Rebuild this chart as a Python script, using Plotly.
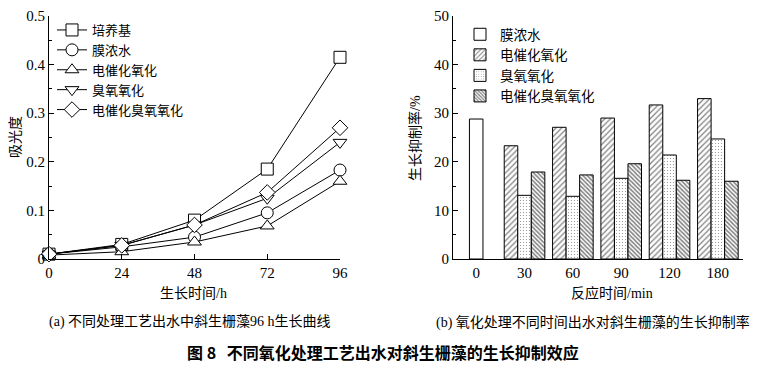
import plotly.graph_objects as go

# ---- data (a) ----
hours = [0, 24, 48, 72, 96]
line_names = ["培养基", "膜浓水", "电催化氧化", "臭氧氧化", "电催化臭氧氧化"]
culture = [0.010, 0.030, 0.080, 0.185, 0.415]
membrane = [0.010, 0.025, 0.045, 0.095, 0.183]
electro = [0.008, 0.015, 0.035, 0.068, 0.160]
ozone = [0.010, 0.028, 0.070, 0.125, 0.240]
electro_ozone = [0.010, 0.028, 0.070, 0.137, 0.270]

# ---- data (b) ----
cat_all = ["0", "30", "60", "90", "120", "180"]
cat_treat = ["30", "60", "90", "120", "180"]
bar_names = ["膜浓水", "电催化氧化", "臭氧氧化", "电催化臭氧氧化"]
membrane_rate = [28.8]
electro_rate = [23.3, 27.1, 29.0, 31.7, 33.0]
ozone_rate = [13.1, 12.9, 16.6, 21.4, 24.7]
electro_ozone_rate = [17.9, 17.3, 19.6, 16.2, 16.0]

W, H = 770, 366
FONT = "Liberation Serif, Times New Roman, Noto Sans CJK SC"

def px_x(p):
    return p / W

def px_y(p):
    return 1 - p / H

fig = go.Figure()

symbols = ["square", "circle", "triangle-up", "triangle-down", "diamond"]
series = [culture, membrane, electro, ozone, electro_ozone]
for name, vals, sym in zip(line_names, series, symbols):
    fig.add_trace(go.Scatter(
        x=hours, y=vals, name=name, mode="lines+markers",
        line=dict(color="black", width=1),
        marker=dict(symbol=sym, size=12, color="white",
                    line=dict(color="black", width=1)),
        cliponaxis=False, xaxis="x", yaxis="y", legend="legend",
    ))

BW = 0.28
fig.add_trace(go.Bar(
    x=["0"], y=membrane_rate, name=bar_names[0], width=BW, offset=-BW / 2,
    marker=dict(color="white", line=dict(color="black", width=1)),
    xaxis="x2", yaxis="y2", legend="legend2",
))
fig.add_trace(go.Bar(
    x=cat_treat, y=electro_rate, name=bar_names[1], width=BW, offset=-1.5 * BW,
    marker=dict(color="white", line=dict(color="black", width=1),
                pattern=dict(shape="/", fgcolor="black", bgcolor="white",
                             size=4, solidity=0.3)),
    xaxis="x2", yaxis="y2", legend="legend2",
))
fig.add_trace(go.Bar(
    x=cat_treat, y=ozone_rate, name=bar_names[2], width=BW, offset=-0.5 * BW,
    marker=dict(color="white", line=dict(color="black", width=1),
                pattern=dict(shape=".", fgcolor="black", bgcolor="white",
                             size=3, solidity=0.1)),
    xaxis="x2", yaxis="y2", legend="legend2",
))
fig.add_trace(go.Bar(
    x=cat_treat, y=electro_ozone_rate, name=bar_names[3], width=BW, offset=0.5 * BW,
    marker=dict(color="white", line=dict(color="black", width=1),
                pattern=dict(shape="\\", fgcolor="black", bgcolor="white",
                             size=3, solidity=0.5)),
    xaxis="x2", yaxis="y2", legend="legend2",
))

axis_common = dict(
    showline=True, linecolor="black", linewidth=1, mirror=False,
    showgrid=False, zeroline=False, ticks="inside", ticklen=5,
    tickcolor="black", tickfont=dict(family=FONT, size=15, color="black"),
    automargin=False,
)
ydom = [px_y(259), px_y(16)]

fig.update_layout(
    width=W, height=H, margin=dict(l=0, r=0, t=0, b=0, autoexpand=False),
    plot_bgcolor="white", paper_bgcolor="white",
    font=dict(family=FONT, color="black"),
    barmode="overlay",
    xaxis=dict(domain=[px_x(49), px_x(340)], range=[0, 96],
               tickvals=hours, anchor="y", **axis_common),
    yaxis=dict(domain=ydom, range=[0, 0.5], tickvals=[0, 0.1, 0.2, 0.3, 0.4, 0.5],
               ticktext=["0", "0.1", "0.2", "0.3", "0.4", "0.5"], anchor="x",
               minor=dict(ticks="inside", ticklen=3, dtick=0.05, tickcolor="black"),
               **axis_common),
    xaxis2=dict(domain=[px_x(453), px_x(743)], type="category",
                categoryorder="array", categoryarray=cat_all,
                range=[-0.48, 5.52], anchor="y2",
                **{**axis_common, "ticks": ""}),
    yaxis2=dict(domain=ydom, range=[0, 50], dtick=10, anchor="x2",
                minor=dict(ticks="inside", ticklen=3, dtick=5, tickcolor="black"),
                **axis_common),
    legend=dict(x=px_x(52), y=px_y(15), xanchor="left", yanchor="top",
                bgcolor="rgba(0,0,0,0)", font=dict(family=FONT, size=13),
                tracegroupgap=0, itemwidth=30),
    legend2=dict(x=px_x(460), y=px_y(19), xanchor="left", yanchor="top",
                 bgcolor="rgba(0,0,0,0)", font=dict(family=FONT, size=13.5),
                 tracegroupgap=0, itemwidth=30),
)

ann = [
    dict(text="生长时间/h", x=px_x(194), y=px_y(293), size=14),
    dict(text="反应时间/min", x=px_x(612), y=px_y(293), size=14),
    dict(text="(a) 不同处理工艺出水中斜生栅藻96 h生长曲线", x=px_x(190), y=px_y(322), size=14),
    dict(text="(b) 氧化处理不同时间出水对斜生栅藻的生长抑制率", x=px_x(593), y=px_y(322), size=14),
]
for a in ann:
    fig.add_annotation(text=a["text"], x=a["x"], y=a["y"], xref="paper", yref="paper",
                       showarrow=False, xanchor="center", yanchor="middle",
                       font=dict(family=FONT, size=a["size"], color="black"))
fig.add_annotation(text="吸光度", x=px_x(15), y=px_y(137), xref="paper", yref="paper",
                   showarrow=False, textangle=-90, xanchor="center", yanchor="middle",
                   font=dict(family=FONT, size=14, color="black"))
fig.add_annotation(text="生长抑制率/%", x=px_x(415), y=px_y(138), xref="paper", yref="paper",
                   showarrow=False, textangle=-90, xanchor="center", yanchor="middle",
                   font=dict(family=FONT, size=14, color="black"))
fig.add_annotation(text="<b>图 8</b>   <b>不同氧化处理工艺出水对斜生栅藻的生长抑制效应</b>",
                   x=px_x(383), y=px_y(352), xref="paper", yref="paper",
                   showarrow=False, xanchor="center", yanchor="middle",
                   font=dict(family="Noto Sans CJK SC, Liberation Sans", size=16, color="black"))

fig.write_html(
    "out.html",
    config={"displayModeBar": False},
    post_script="document.body.style.margin='0';document.body.style.padding='0';"
                "document.documentElement.style.overflow='hidden';",
)
